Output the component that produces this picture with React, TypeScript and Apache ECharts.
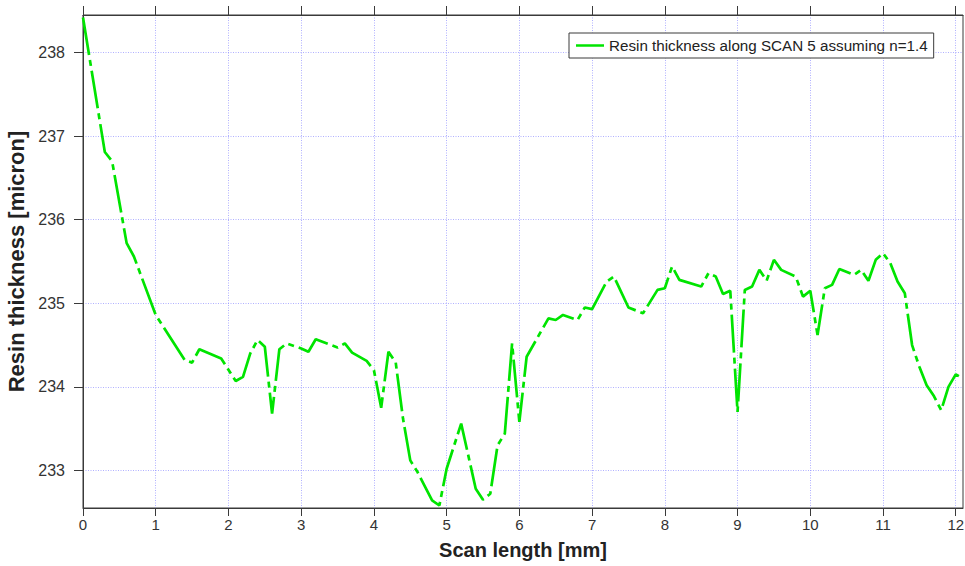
import React, { useEffect, useRef } from "react";
import * as echarts from "echarts";

const seriesName = "Resin thickness along SCAN 5 assuming n=1.4";
const scanMm = [
  0, 0.3, 0.4, 0.6, 0.7, 1.0, 1.4, 1.5, 1.6, 1.9, 2.1, 2.2, 2.3, 2.4, 2.5, 2.6, 2.7, 2.8,
  3.0, 3.1, 3.2, 3.5, 3.6, 3.7, 3.9, 4.0, 4.1, 4.2, 4.3, 4.4, 4.5, 4.6, 4.8, 4.9,
  5.0, 5.2, 5.4, 5.5, 5.6, 5.7, 5.8, 5.9, 6.0, 6.1, 6.4, 6.5, 6.6, 6.8, 6.9,
  7.0, 7.2, 7.3, 7.5, 7.7, 7.9, 8.0, 8.1, 8.2, 8.5, 8.6, 8.7, 8.8, 8.9,
  9.0, 9.1, 9.2, 9.3, 9.4, 9.5, 9.6, 9.8, 9.9, 10.0, 10.1, 10.2, 10.3, 10.4,
  10.6, 10.7, 10.8, 10.9, 11.0, 11.1, 11.2, 11.3, 11.4, 11.5, 11.6, 11.7, 11.8,
  11.9, 12.0, 12.1,
];
const thicknessMicron = [
  238.42, 236.81, 236.7, 235.72, 235.56, 234.86, 234.32, 234.29, 234.45, 234.34, 234.07, 234.12, 234.4, 234.56, 234.48, 233.68, 234.45, 234.52,
  234.46, 234.42, 234.57, 234.47, 234.52, 234.41, 234.31, 234.2, 233.75, 234.42, 234.29, 233.62, 233.12, 232.98, 232.64, 232.58,
  233.02, 233.56, 232.78, 232.65, 232.72, 233.3, 233.44, 234.52, 233.58, 234.36, 234.82, 234.8, 234.86, 234.8, 234.95,
  234.93, 235.26, 235.32, 234.95, 234.88, 235.16, 235.18, 235.44, 235.28, 235.2, 235.36, 235.32, 235.11, 235.15,
  233.7, 235.16, 235.2, 235.4, 235.27, 235.52, 235.4, 235.32, 235.08, 235.15, 234.62, 235.18, 235.22, 235.41,
  235.34, 235.4, 235.27, 235.52, 235.6, 235.48, 235.26, 235.12, 234.5, 234.24, 234.02, 233.89, 233.72,
  234.0, 234.15, 234.1,
];
const xTicks = [0, 1, 2, 3, 4, 5, 6, 7, 8, 9, 10, 11, 12];
const yTicks = [233, 234, 235, 236, 237, 238];

export default function App() {
  const ref = useRef<HTMLDivElement>(null);
  useEffect(() => {
    if (!ref.current) return;
    const chart = echarts.init(ref.current, undefined, { renderer: "svg" });
    const axisColor = "#3a3a3a";
    const gridColor = "#7b7bff";
    const labelFont = "Liberation Sans, Arial, sans-serif";
    const green = "#00e400";
    const data = scanMm.map((x, i) => [x, thicknessMicron[i]]);
    const splitStyle = { type: [1, 1.5], color: gridColor, width: 1, opacity: 0.6 };
    chart.setOption({
      animation: false,
      backgroundColor: "#ffffff",
      grid: {
        left: 83,
        right: 2,
        top: 15,
        bottom: 58,
        outerBoundsMode: "none",
        containLabel: false,
        show: true,
        borderColor: axisColor,
        borderWidth: 1,
        backgroundColor: "transparent",
      },
      legend: {
        left: 569,
        top: 33,
        padding: [5, 6, 5, 7],
        icon: "rect",
        itemWidth: 28,
        itemHeight: 2.5,
        itemGap: 8,
        itemStyle: { color: green, borderWidth: 0 },
        backgroundColor: "#ffffff",
        borderColor: axisColor,
        borderWidth: 1,
        borderRadius: 0,
        textStyle: { fontFamily: labelFont, fontSize: 15.2, color: "#222", lineHeight: 14 },
        data: [seriesName],
      },
      xAxis: [
        {
          type: "value",
          min: 0,
          max: 12.1,
          interval: 1,
          name: "Scan length [mm]",
          nameLocation: "middle",
          nameGap: 32,
          nameTextStyle: { fontFamily: labelFont, fontWeight: "bold", fontSize: 20, color: "#222" },
          axisLine: { show: true, lineStyle: { color: axisColor, width: 1 } },
          axisTick: { show: true, length: 8, inside: false, customValues: xTicks, lineStyle: { color: axisColor } },
          axisLabel: { customValues: xTicks, margin: 9, fontFamily: labelFont, fontSize: 15, color: "#333" },
          splitLine: { show: true, lineStyle: splitStyle },
        },
        {
          type: "value",
          position: "top",
          min: 0,
          max: 12.1,
          interval: 1,
          axisLine: { show: true, lineStyle: { color: axisColor, width: 1 } },
          axisTick: { show: true, length: 9, inside: false, customValues: xTicks, lineStyle: { color: axisColor } },
          axisLabel: { show: false },
          splitLine: { show: false },
        },
      ],
      yAxis: {
        type: "value",
        min: 232.55,
        max: 238.45,
        splitNumber: 6,
        name: "Resin thickness [micron]",
        nameLocation: "middle",
        nameGap: 56,
        nameTextStyle: { fontFamily: labelFont, fontWeight: "bold", fontSize: 22, color: "#222" },
        axisLine: { show: true, lineStyle: { color: axisColor, width: 1 } },
        axisTick: { show: true, length: 9, inside: false, customValues: yTicks, lineStyle: { color: axisColor } },
        axisLabel: { customValues: yTicks, margin: 18, fontFamily: labelFont, fontSize: 16, color: "#333" },
        splitLine: { show: true, lineStyle: splitStyle },
      },
      series: [
        {
          name: seriesName,
          type: "line",
          data,
          symbol: "none",
          xAxisIndex: 0,
          yAxisIndex: 0,
          color: green,
          lineStyle: { color: green, width: 2.7, type: [38, 5, 6, 5] },
          z: 5,
        },
      ],
    });
    return () => chart.dispose();
  }, []);
  return (
    <div
      ref={ref}
      style={{ position: "fixed", left: 0, top: 0, width: 965, height: 566, background: "#fff" }}
    />
  );
}
